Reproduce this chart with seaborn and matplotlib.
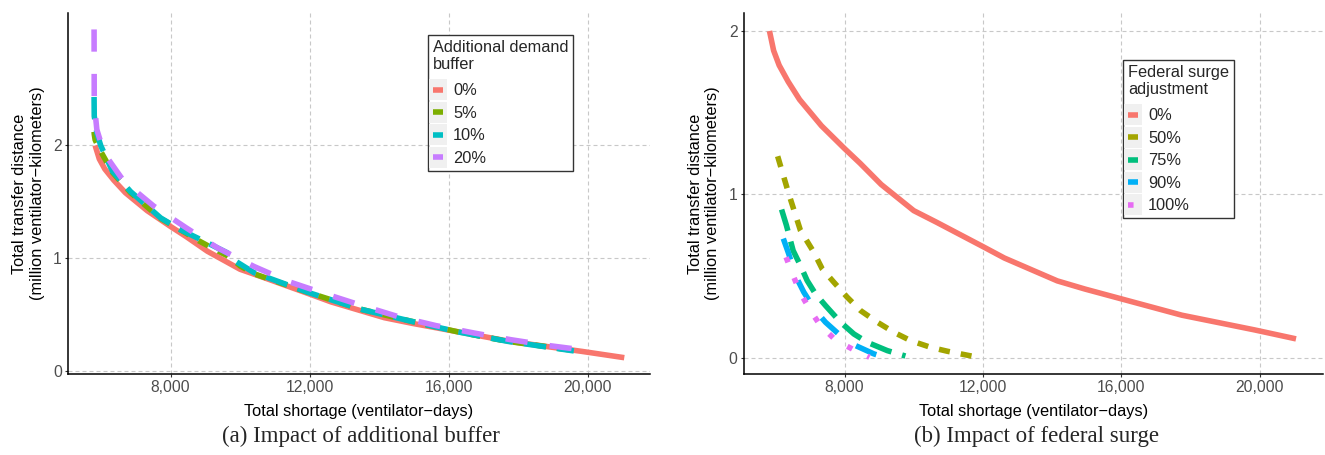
import numpy as np
import pandas as pd
import matplotlib
matplotlib.use("Agg")
import matplotlib.pyplot as plt
import seaborn as sns
from matplotlib.lines import Line2D
from matplotlib.patches import Rectangle
from matplotlib.legend_handler import HandlerBase
from matplotlib.ticker import FuncFormatter

# ---------------- data ----------------
# baseline (0%) curve, shared by both panels
x_base = [5830, 5950, 6110, 6370, 6700, 7330, 8000, 8450, 9060, 10000, 10650,
          12000, 12620, 14150, 14950, 16000, 17750, 19850, 21050]
y_base = [2.00, 1.88, 1.79, 1.69, 1.58, 1.42, 1.28, 1.19, 1.06, 0.90, 0.83,
          0.68, 0.61, 0.47, 0.42, 0.36, 0.26, 0.17, 0.115]

# panel (a): additional demand buffer
x_buf5 = [5800, 5805, 5830, 5950, 6330, 6850, 7720, 8290, 8770, 9250, 9700,
          10000, 10400, 12000, 13470, 14900, 16250, 17700, 19700]
y_buf5 = [2.12, 2.10, 2.05, 1.97, 1.76, 1.58, 1.35, 1.25, 1.16, 1.08, 1.01,
          0.93, 0.86, 0.69, 0.545, 0.44, 0.345, 0.26, 0.175]
x_buf10 = [5800, 5805, 5880, 5990, 6330, 6850, 7720, 8290, 8960, 9640, 9880,
           10400, 12000, 13470, 14900, 16250, 17700, 19600]
y_buf10 = [2.43, 2.26, 2.11, 2.00, 1.77, 1.59, 1.355, 1.25, 1.15, 1.045, 0.97,
           0.87, 0.69, 0.545, 0.44, 0.345, 0.26, 0.175]
x_buf20 = [5800, 5805, 5880, 6040, 6180, 6660, 7520, 8440, 9350, 10400, 11400,
           12420, 13480, 14540, 15630, 16730, 17780, 18890, 19950]
y_buf20 = [3.03, 2.37, 2.14, 1.98, 1.89, 1.68, 1.46, 1.27, 1.09, 0.925, 0.79,
           0.685, 0.58, 0.48, 0.40, 0.334, 0.275, 0.222, 0.18]
buffer_labels = ["0%", "5%", "10%", "20%"]

# panel (b): federal surge adjustment
x_fed50 = [6067, 6386, 6725, 7110, 7353, 7690, 8077, 8464, 8948, 9429, 9913,
           10493, 10977, 11670]
y_fed50 = [1.233, 1.004, 0.779, 0.646, 0.544, 0.462, 0.370, 0.288, 0.217,
           0.155, 0.104, 0.063, 0.039, 0.010]
x_fed75 = [6180, 6320, 6513, 6725, 6919, 7159, 7449, 7884, 8270, 8658, 9238, 9760]
y_fed75 = [0.907, 0.810, 0.656, 0.564, 0.472, 0.391, 0.319, 0.217, 0.145,
           0.094, 0.043, 0.010]
x_fed90 = [6230, 6386, 6580, 6822, 7159, 7449, 7933, 8319, 8849, 9190]
y_fed90 = [0.729, 0.636, 0.503, 0.401, 0.288, 0.217, 0.125, 0.074, 0.023, 0.000]
x_fed100 = [6310, 6513, 6725, 7014, 7304, 7739, 8223, 8720]
y_fed100 = [0.615, 0.503, 0.395, 0.288, 0.196, 0.108, 0.053, 0.003]
surge_labels = ["0%", "50%", "75%", "90%", "100%"]

x_ticks = [8000, 12000, 16000, 20000]
y_ticks = [0, 1, 2]

# ---------------- styles ----------------
buf_colors = ["#F8766D", "#7CAE00", "#00BFC4", "#C77CFF"]
buf_dashes = ["", (2, 2), (4, 2), (4, 4)]
fed_colors = ["#F8766D", "#A3A500", "#00BF7D", "#00B0F6", "#E76BF3"]
fed_dashes = ["", (2, 2), (4, 2), (4, 4), (1, 3)]
LW = 4.0
FS = 11.8

sns.set_style("white")
plt.rcParams['font.family'] = ['Liberation Sans', 'DejaVu Sans']

def long_df(xs, ys, labels, name):
    return pd.concat([pd.DataFrame({"x": x, "y": y, name: lab})
                      for x, y, lab in zip(xs, ys, labels)], ignore_index=True)

df_a = long_df([x_base, x_buf5, x_buf10, x_buf20],
               [y_base, y_buf5, y_buf10, y_buf20], buffer_labels, "grp")
df_b = long_df([x_base, x_fed50, x_fed75, x_fed90, x_fed100],
               [y_base, y_fed50, y_fed75, y_fed90, y_fed100], surge_labels, "grp")


class KeyHandler(HandlerBase):
    def create_artists(self, legend, orig_handle, xdescent, ydescent, width,
                       height, fontsize, trans):
        ext = legend.labelspacing * fontsize / 2.0
        bg = Rectangle((-xdescent - 2.5, -ydescent - ext), width + 5,
                       height + 2 * ext, facecolor="#F0F0F0", edgecolor="none",
                       transform=trans)
        yy = -ydescent + height / 2.0
        ln = Line2D([-xdescent, -xdescent + width], [yy, yy])
        ln.update_from(orig_handle)
        ln.set_transform(trans)
        return [bg, ln]


fig = plt.figure(figsize=(13.25, 4.55), dpi=100)
axL = fig.add_axes([68 / 1325, 1 - 374 / 455, 582 / 1325, 361 / 455])
axR = fig.add_axes([743.7 / 1325, 1 - 374 / 455, 579.3 / 1325, 361 / 455])


def draw(ax, df, labels, colors, dashes, title, xlim, ylim, leg_anchor):
    sns.lineplot(data=df, x="x", y="y", hue="grp", style="grp",
                 hue_order=labels, style_order=labels,
                 palette=dict(zip(labels, colors)),
                 dashes=dict(zip(labels, dashes)),
                 linewidth=LW, estimator=None, sort=False, legend=False,
                 solid_capstyle="butt", dash_capstyle="butt", ax=ax)
    ax.set_xlim(*xlim)
    ax.set_ylim(*ylim)
    ax.set_xticks(x_ticks)
    ax.set_yticks(y_ticks)
    ax.xaxis.set_major_formatter(FuncFormatter(lambda v, p: f"{int(v):,}"))
    ax.grid(True, color="#C8C8C8", lw=0.8, ls=(0, (3.6, 2.7)))
    ax.set_axisbelow(True)
    for s in ["top", "right"]:
        ax.spines[s].set_visible(False)
    for s in ["left", "bottom"]:
        ax.spines[s].set_color("black")
        ax.spines[s].set_linewidth(1.1)
    ax.tick_params(axis="both", bottom=True, left=True, length=2.5, width=0.8,
                   color="#333333", labelcolor="#4D4D4D", labelsize=11.3, pad=2)
    ax.set_xlabel("Total shortage (ventilator\u2212days)", fontsize=FS,
                  color="black", labelpad=6)
    ax.set_ylabel("Total transfer distance\n(million ventilator\u2212kilometers)",
                  fontsize=FS, color="black", labelpad=6)
    handles = []
    for c, d in zip(colors, dashes):
        if d == "":
            h = Line2D([], [], color=c, lw=LW, ls="-", solid_capstyle="butt")
        else:
            h = Line2D([], [], color=c, lw=LW, dashes=d, dash_capstyle="butt")
        handles.append(h)
    leg = ax.legend(handles, labels, title=title, loc="upper left",
                    bbox_to_anchor=leg_anchor, borderaxespad=0, frameon=True,
                    fancybox=False, edgecolor="#333333", framealpha=1,
                    fontsize=FS, title_fontsize=FS, handlelength=0.62,
                    handleheight=1.0, handletextpad=0.6, labelspacing=0.40,
                    borderpad=0.3, alignment="left",
                    handler_map={Line2D: KeyHandler()})
    leg.get_frame().set_linewidth(1.0)
    leg.get_title().set_multialignment("left")
    leg._legend_box.sep = 0.62 * FS


draw(axL, df_a, buffer_labels, buf_colors, buf_dashes,
     "Additional demand\nbuffer", (5050, 21790), (-0.03, 3.176),
     (0.6186, 0.939))
draw(axR, df_b, surge_labels, fed_colors, fed_dashes,
     "Federal surge\nadjustment", (5085, 21830), (-0.10, 2.11),
     (0.6548, 0.8698))

fig.text(361 / 1325, 1 - 436 / 455, "(a) Impact of additional buffer",
         ha="center", va="center", fontsize=16.5, family=["Liberation Serif"])
fig.text(1036 / 1325, 1 - 436 / 455, "(b) Impact of federal surge",
         ha="center", va="center", fontsize=16.5, family=["Liberation Serif"])

fig.savefig("out.png", dpi=100, facecolor="white")
